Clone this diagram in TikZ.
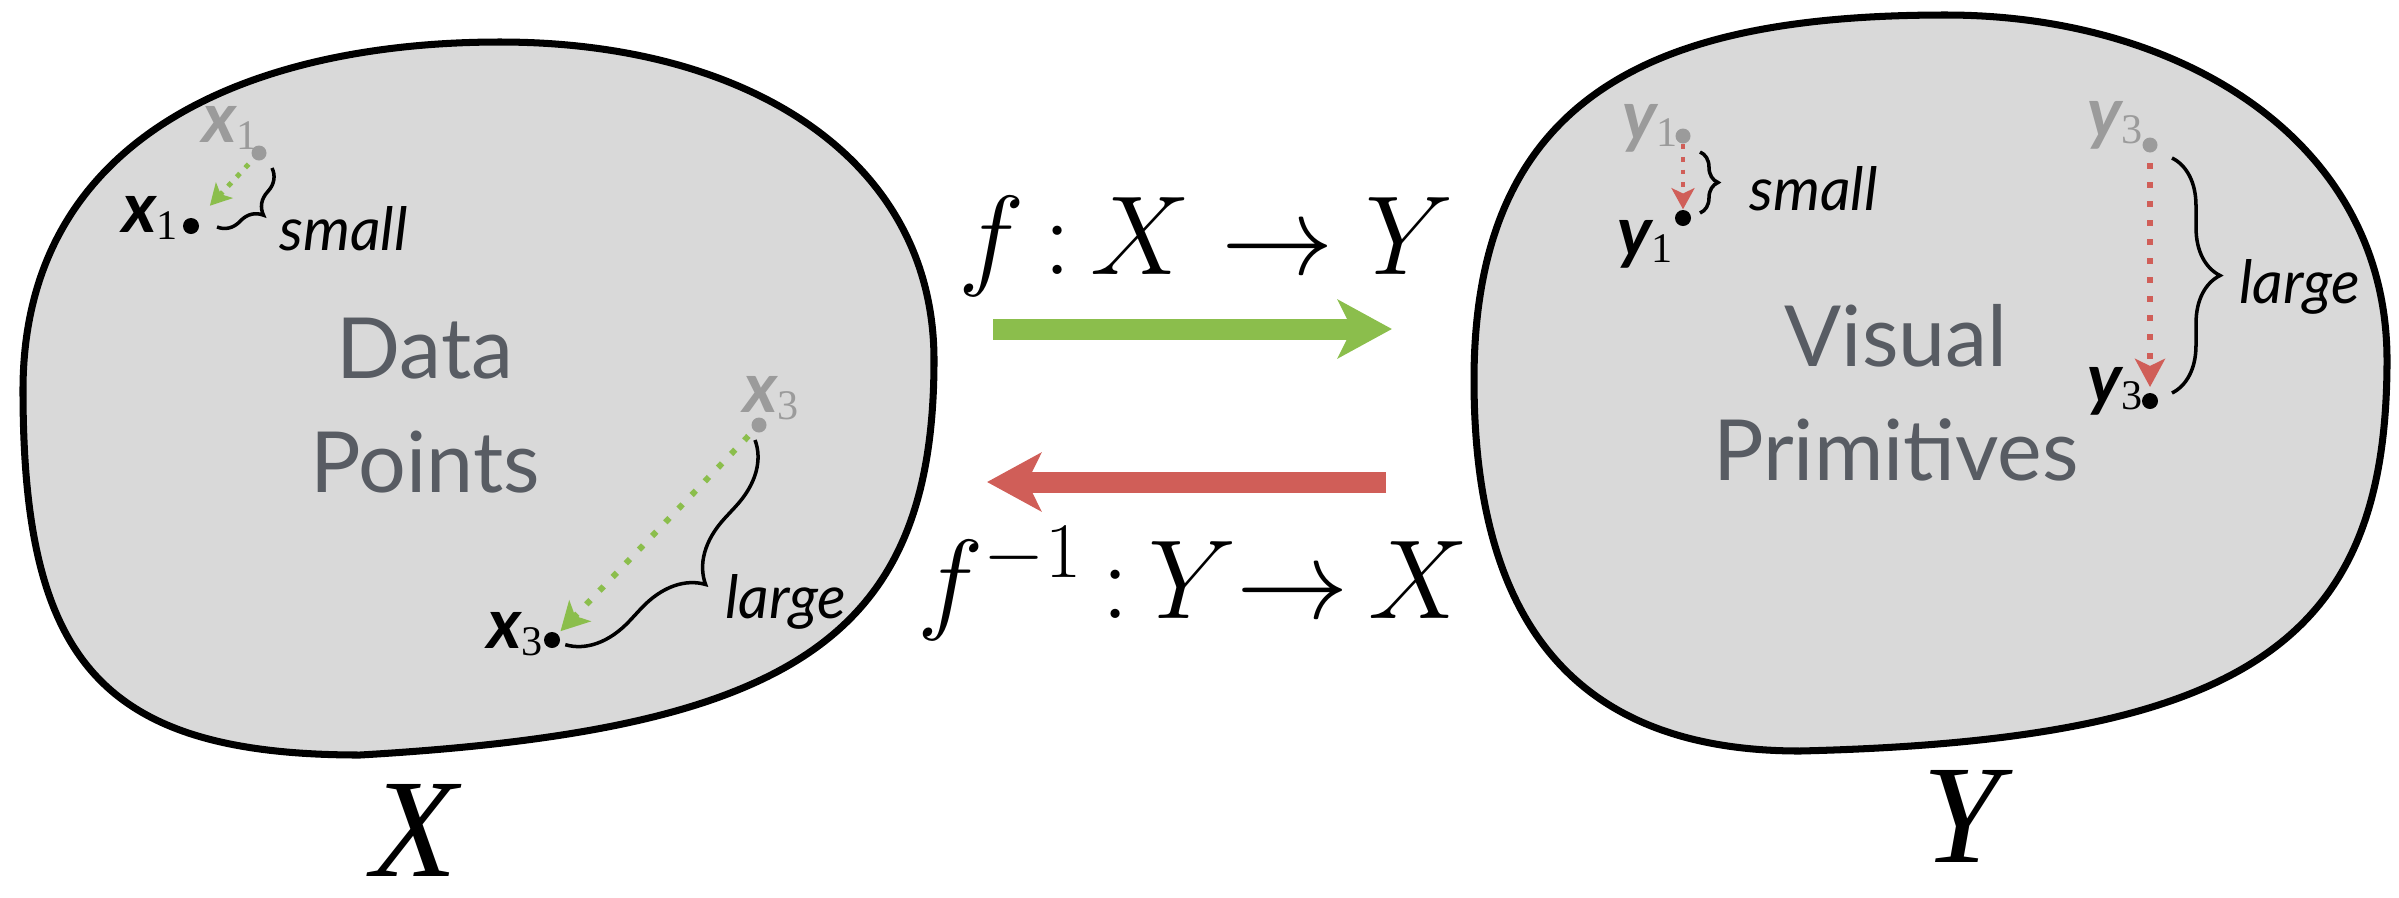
\RequirePackage{fix-cm}
\documentclass[tikz,border=0pt]{standalone}
\usepackage{fontspec}
\newfontfamily\av{Lato}
\newfontfamily\tms{Liberation Serif}
\usepackage{tikz}
\usetikzlibrary{arrows.meta,calc,decorations.pathreplacing}
\definecolor{mapgreen}{HTML}{8BBE4C}
\definecolor{mapred}{HTML}{D05E58}
\definecolor{blobfill}{HTML}{D9D9D9}
\definecolor{captext}{HTML}{585C63}
\definecolor{ghost}{HTML}{9B9B9B}
\newcommand{\ptlbl}[2]{{\fontsize{20}{20}\selectfont\av\bfseries\itshape #1}\raisebox{-0.45ex}{\fontsize{12}{12}\selectfont\tms #2}}

\begin{document}
\begin{tikzpicture}[
  blob/.style={draw=black,line width=2pt,fill=blobfill},
  dotb/.style={circle,fill=black,inner sep=0pt,minimum size=0.16cm},
  dotg/.style={circle,fill=ghost,inner sep=0pt,minimum size=0.15cm},
  caption/.style={font=\fontsize{24}{28}\selectfont\av,text=captext,anchor=base},
  note/.style={font=\fontsize{17}{20}\selectfont\av\itshape,anchor=base west},
  setname/.style={font=\fontsize{40}{40}\selectfont\tms\itshape,anchor=base,inner sep=0pt},
  formula/.style={font=\fontsize{32}{34}\selectfont,anchor=base},
  maparrow/.style={line width=0.21cm,-{Stealth[length=0.54cm,width=0.58cm,inset=0.14cm]}},
  movesmall/.style={line width=1.4pt,dash pattern=on 1.4pt off 2.2pt,-{Stealth[length=6pt,width=6.5pt,inset=1.5pt]}},
  movebig/.style={line width=1.7pt,dash pattern=on 1.7pt off 3.7pt,-{Stealth[length=8pt,width=8.5pt,inset=2pt]}},
  curly/.style={decorate,decoration={brace,amplitude=#1},line width=1pt}
]
\useasboundingbox (0,0) rectangle (23.99,-8.97);

% the two spaces
\draw[blob] (0.23,-3.90) .. controls (0.23,-1.30) and (2.60,-0.42) .. (5.00,-0.42)
  .. controls (7.50,-0.42) and (9.34,-1.60) .. (9.34,-3.60)
  .. controls (9.34,-6.40) and (7.90,-7.30) .. (3.60,-7.55)
  .. controls (1.00,-7.55) and (0.23,-6.60) .. cycle;
\draw[blob] (14.74,-3.80) .. controls (14.74,-0.90) and (16.60,-0.15) .. (19.46,-0.15)
  .. controls (21.80,-0.15) and (23.87,-1.40) .. (23.87,-3.60)
  .. controls (23.87,-6.40) and (22.50,-7.40) .. (18.00,-7.51)
  .. controls (16.00,-7.51) and (14.74,-6.50) .. cycle;

\node[caption] (data) at (4.25,-3.78) {Data};
\node[caption] (points) at (4.25,-4.92) {Points};
\node[caption] (visual) at (18.96,-3.66) {Visual};
\node[caption] (prims) at (18.96,-4.80) {Primitives};

\node[setname] (setX) at (4.14,-8.76) {X};
\node[setname] (setY) at (19.62,-8.62) {Y};

% maps between the spaces
\node[formula] (fwd) at (12.06,-2.74) {$f\,{:}\,X \to Y$};
\node[formula] (inv) at (11.93,-6.18) {$f^{-1}\,{:}\,Y{\to}\,X$};
\coordinate (gs) at (9.93,-3.29);
\coordinate (ge) at (13.92,-3.29);
\coordinate (rs) at (13.86,-4.82);
\coordinate (re) at (9.87,-4.82);
\draw[maparrow,mapgreen] (gs) -- (ge);
\draw[maparrow,mapred] (rs) -- (re);

% data points
\node[dotg] (x1g) at (2.59,-1.53) {};
\node[dotb] (x1b) at (1.91,-2.26) {};
\node[dotg] (x3g) at (7.59,-4.25) {};
\node[dotb] (x3b) at (5.52,-6.40) {};
\node[text=ghost] (x1gl) at (2.30,-1.28) {\ptlbl{x}{1}};
\node (x1bl) at (1.50,-2.18) {\ptlbl{x}{1}};
\node[text=ghost] (x3gl) at (7.71,-3.98) {\ptlbl{x}{3}};
\node (x3bl) at (5.15,-6.34) {\ptlbl{x}{3}};
\draw[movesmall,mapgreen,shorten <=2pt,shorten >=0.19cm] (x1g) -- (x1b);
\draw[movebig,mapgreen,shorten <=2pt,shorten >=1pt] (x3g) -- (x3b);
\draw[curly=0.26cm] ($(x1g)+(0.13,-0.15)$) -- ($(x1b)+(0.26,-0.01)$);
\draw[curly=0.62cm] ($(x3g)+(-0.04,-0.15)$) -- ($(x3b)+(0.13,-0.05)$);
\node[note] (smallx) at (2.67,-2.50) {small};
\node[note] (largex) at (7.13,-6.18) {large};

% visual primitives
\node[dotg] (y1g) at (16.83,-1.36) {};
\node[dotb] (y1b) at (16.83,-2.18) {};
\node[dotg] (y3g) at (21.50,-1.45) {};
\node[dotb] (y3b) at (21.50,-4.01) {};
\node[text=ghost] (y1gl) at (16.50,-1.28) {\ptlbl{y}{1}};
\node (y1bl) at (16.45,-2.44) {\ptlbl{y}{1}};
\node[text=ghost] (y3gl) at (21.15,-1.25) {\ptlbl{y}{3}};
\node (y3bl) at (21.15,-3.91) {\ptlbl{y}{3}};
\draw[movesmall,mapred] (y1g) -- (y1b);
\draw[movebig,mapred,shorten <=0.1cm,shorten >=1.5pt] (y3g) -- (y3b);
\draw[curly=0.18cm] ($(y1g)+(0.17,-0.16)$) -- ($(y1b)+(0.17,0.05)$);
\draw[curly=0.48cm] ($(y3g)+(0.22,-0.13)$) -- ($(y3b)+(0.22,0.08)$);
\node[note] (smally) at (17.37,-2.10) {small};
\node[note] (largey) at (22.27,-3.03) {large};
\end{tikzpicture}
\end{document}
